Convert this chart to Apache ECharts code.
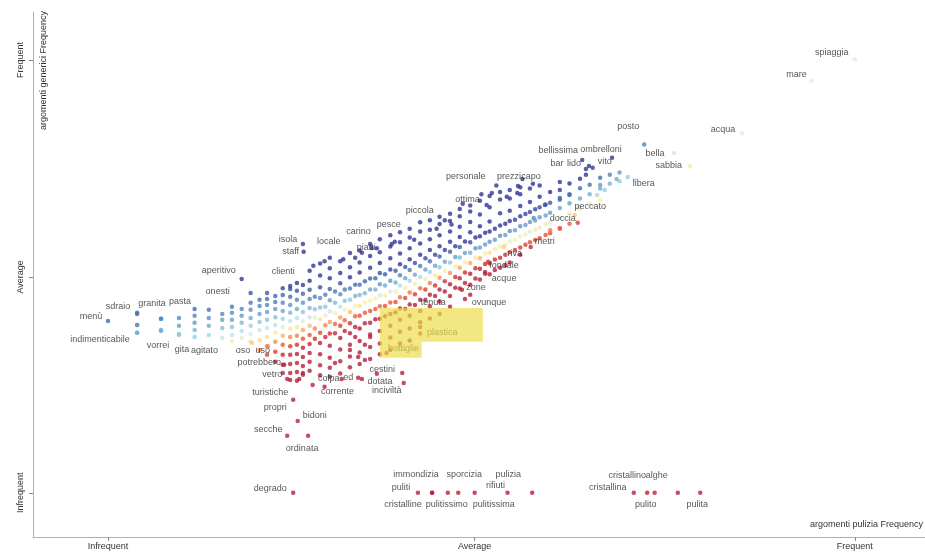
<!DOCTYPE html>
<html><head><meta charset="utf-8">
<script src="https://cdn.jsdelivr.net/npm/echarts@6/dist/echarts.min.js"></script>
<style>html,body{margin:0;padding:0;background:#fff}#c{width:925px;height:552px}</style>
</head><body><div id="c"></div>
<script>
// ---------- tick labels ----------
const tickNames = ['Infrequent', 'Average', 'Frequent'];
const xTickValues = [0, 49.1, 100];
const yTickValues = [0, 49.9, 100];
const xAxisTitle = 'argomenti pulizia Frequency';
const yAxisTitle = 'argomenti generici Frequency';

// ---------- labelled terms (x = pulizia rank, y = generici rank) ----------
const termNames = ['spiaggia','mare','acqua','posto','bella','sabbia','libera','bellissima','ombrelloni','bar','lido','vito',
  'prezzi','capo','personale','ottima','piccola','pesce','carino','piatti','locale','isola','staff','clienti','aperitivo','onesti',
  'granita','pasta','sdraio','menù','indimenticabile','vorrei','gita','agitato','oso','uso','potrebbero','vetro','turistiche',
  'propri','bidoni','secche','ordinata','colpa','ed','corrente','cestini','dotata','inciviltà','plastica','bottiglie','tenuta',
  'ovunque','zone','acque','fondale','riva','metri','doccia','peccato','degrado','puliti','cristalline','immondizia',
  'pulitissimo','sporcizia','pulitissima','rifiuti','pulizia','cristallina','cristallino','pulito','alghe','pulita'];
const termX = [100,94.2,84.9,71.8,75.8,77.9,69.6,63.5,67.5,64.0,64.4,64.9,
  54.9,56.9,51.4,50.7,45.1,38.4,35.3,33.1,29.7,26.1,26.2,24.4,17.9,19.1,
  3.9,7.1,3.9,0,3.9,7.1,9.5,11.6,19.3,21.4,23.6,24.0,25.6,
  24.8,25.4,24.0,26.8,31.3,33.5,27.4,39.4,34.0,39.6,41.8,37.3,41.8,
  47.8,47.4,50.5,50.9,53.0,56.6,62.9,65.5,24.8,41.5,43.4,43.4,
  45.5,46.9,49.1,53.5,56.8,70.4,72.2,73.2,76.3,79.3];
const termY = [100.2,95.2,83.1,80.5,78.5,75.5,73.0,76.9,77.4,74.8,75.5,75.1,
  70.9,71.4,69.3,66.5,63.0,58.0,56.6,54.3,54.3,57.5,55.7,47.8,49.4,46.2,
  41.3,40.2,38.8,39.7,37.0,37.4,36.5,36.0,34.6,33.9,29.6,26.3,26.3,
  21.5,16.6,13.2,13.2,26.3,26.6,24.9,27.7,26.3,25.4,38.3,32.3,44.6,
  44.8,46.9,51.0,53.4,56.8,56.8,62.4,68.8,0,0,0,0,
  0,0,0,0,0,0,0,0,0,0];

// ---------- unlabelled terms, grouped in rank columns ----------
const colX = [3.9,7.1,9.5,11.6,13.5,15.3,16.6,17.9,19.1,20.3,21.3,22.4,23.4,24.4,25.3,26.1,27.0,
  28.4,29.7,31.1,32.4,33.7,35.1,36.4,37.8,39.1,40.4,41.8,43.1,44.4,45.8,47.1,48.5,49.8,51.1,52.5,
  53.8,55.2,56.5,57.8,59.2,60.5,61.8,63.2,64.5,65.9,67.2,68.5];
const colY = [
  [41.6,38.8,37.0],
  [40.2,37.6],
  [40.4,38.6,36.7],
  [42.5,40.9,39.3,37.6,36.0],
  [42.3,40.4,38.6,36.5],
  [41.3,40.0,38.1,35.8],
  [43.0,41.6,40.0,38.3,36.5,35.1],
  [42.5,40.9,39.3,37.4,35.8],
  [43.9,42.3,40.4,38.6,36.7,34.9],
  [44.6,43.2,41.3,39.5,37.6,35.3,33.0],
  [46.2,44.8,43.4,41.8,40.0,38.1,36.0,33.9,31.9],
  [45.5,44.1,42.5,40.6,38.8,37.0,34.9,32.6,30.3],
  [47.3,45.7,43.9,42.0,40.2,38.3,36.3,34.2,31.9,29.6,27.7],
  [47.1,45.3,43.4,41.6,39.7,37.9,36.0,33.9,31.9,29.8,27.7,26.1],
  [48.5,46.7,44.6,42.5,40.4,38.3,36.3,34.2,32.1,30.0,27.9,25.9],
  [48.0,46.0,43.9,41.8,39.7,37.6,35.6,33.5,31.4,29.3,27.3],
  [51.3,49.0,46.9,44.8,42.7,40.6,38.6,36.5,34.4,32.3,30.3,28.2],
  [53.0,50.2,47.5,45.0,42.8,40.1,37.0,34.6,32.0,29.5,27.2],
  [51.9,49.6,47.1,44.5,41.9,39.5,36.8,34.0,31.2,28.9,26.8],
  [53.5,50.8,48.4,45.9,43.0,40.5,38.6,35.8,33.1,30.4,27.6],
  [55.4,52.1,49.8,47.2,44.6,41.8,39.2,36.9,34.2,31.5,29.0],
  [56.0,53.2,50.9,48.1,45.7,43.2,40.9,38.0,35.1,32.4,29.8],
  [57.5,54.7,52.0,49.5,47.0,44.4,42.0,39.3,36.6,33.7,30.9],
  [58.6,55.6,53.1,50.8,48.2,45.6,43.1,40.2,37.4,34.5,32.0],
  [59.5,56.9,54.2,51.6,49.0,46.5,44.0,41.3,38.6,35.9,33.0],
  [60.2,57.9,55.3,52.8,50.3,47.9,45.2,42.6,40.0,37.2,34.5],
  [61.0,59.0,56.5,54.0,51.5,49.0,46.3,43.5,40.9,38.0,35.2],
  [62.5,60.4,57.6,55.0,52.4,49.9,47.3,42.0,39.4,36.8],
  [63.0,60.8,58.6,56.1,53.5,51.0,48.5,45.8,43.1,40.3],
  [63.8,62.1,59.5,57.0,54.6,52.1,49.7,47.0,44.2,41.4],
  [64.5,62.8,60.4,58.0,55.7,53.2,50.8,48.2,45.5,43.0],
  [65.6,63.9,61.5,59.1,56.8,54.4,52.0,49.6,47.2],
  [66.4,65.0,62.6,60.2,57.9,55.5,53.1,50.6,48.1,45.8],
  [67.5,64.3,61.6,59.3,56.7,54.2,51.8,49.3],
  [68.6,66.0,62.7,60.4,58.0,55.5,53.0,50.5],
  [69.5,67.8,64.6,61.8,59.4,56.9,54.3,52.0],
  [70.0,68.0,65.2,62.8,60.5,58.1,55.6,53.2],
  [70.6,69.0,66.3,63.9,61.6,59.2,56.7,55.0],
  [70.3,67.2,64.9,62.6,60.3,57.9],
  [71.0,68.4,66.0,63.7,61.3,58.8],
  [69.5,67.0,64.7,62.4,60.0],
  [71.8,70.0,68.1,65.8,63.6,61.0],
  [71.5,69.0,66.9,64.5,62.2],
  [72.6,70.4,68.0,65.6],
  [71.2,69.0,66.8],
  [72.8,70.3,67.6],
  [73.5,71.4],
  [74.0,72.0]
];
// dense core of the diagonal band
const coreX = [27.7,29.1,30.4,31.7,33.1,34.4,35.8,37.1,38.5,39.8,41.1,42.5,43.8,45.1,46.5,47.8,49.2,50.5,51.8,53.2,54.5,55.9,57.2,58.6];
const coreY = [
  [45.3,42.4,40.5,38.0,35.6],[45.8,43.0,41.0,38.7,36.0],[46.5,43.9,41.5,39.0,36.9],[47.0,44.4,42.3,39.9,37.4],
  [48.1,45.5,43.2,40.8,38.3],[48.9,46.1,44.0,41.6,39.2],[49.6,47.0,44.9,42.5,40.1],[50.5,47.9,45.6,43.2,40.8],
  [51.3,48.6,46.5,44.1,41.7],[52.2,49.6,47.4,45.0,42.5],[53.1,50.4,48.3,45.9,43.4],[54.2,51.6,49.4,47.0,44.6],
  [55.0,52.5,50.3,47.9,45.5],[56.1,53.4,51.3,48.9,46.5],[57.0,54.5,52.3,49.9,47.4],[58.1,55.4,53.3,50.9,48.5],
  [59.0,56.5,54.3,51.9,49.5],[60.1,57.4,55.3,52.9,50.6],[61.0,58.5,56.3,53.9,51.5],[62.2,59.6,57.4,55.0,52.6],
  [63.1,60.7,58.5,56.1],[64.4,61.9,59.7,57.3],[65.5,62.9,60.8,58.4],[66.6,64.1,62.0,59.6]
];
// scattered outliers
const extraX = [30.4,33.5,34.4,32.4,33.1,35.1,34.4,26.1,29.0,36.0,
  60.5,61.8,66.5,68.1,70.5,65.9,58.5,60.5,62.5,59.2,64.0,63.0,57.0,
  54.8,53.4,55.5,50.0,47.5,46.0,44.0,41.0,38.0,36.0,34.0,31.5,29.0,27.5,52.0];
const extraY = [30.0,31.4,30.7,33.0,36.0,36.0,34.2,27.7,24.5,27.5,
  67.7,68.8,70.0,72.5,72.3,71.1,66.5,61.2,64.2,60.7,73.5,66.0,63.5,
  69.3,68.4,72.5,69.0,66.8,62.0,61.0,58.5,57.5,56.5,55.5,54.0,53.5,52.5,71.0];

// ---------- styling helpers (colour = distance from the diagonal band) ----------
const bandAnchors = [[0,31],[4,33],[12,34],[16,35],[20,36.5],[24,38.5],[30,41.5],[39,47],[52.5,57],[66,68],[85,83],[94,95],[100,100]];
function bandCenter(v){
  for(let i=1;i<bandAnchors.length;i++){
    const a=bandAnchors[i-1], b=bandAnchors[i];
    if(v<=b[0]) return a[1]+(b[1]-a[1])*(v-a[0])/(b[0]-a[0]);
  }
  return bandAnchors[bandAnchors.length-1][1];
}
function gain(v){
  if(v<20) return 1;
  if(v<50) return 1+(v-20)*0.06;
  if(v<66) return 2.8-(v-50)*0.07;
  return Math.max(0.3,1.68-(v-66)*0.14);
}
const stops = [[-16,'#b5213a'],[-11,'#d73027'],[-7,'#f46d43'],[-4,'#fdae61'],[-2,'#fee090'],[-0.5,'#f7f2a8'],
  [0.5,'#d8e8ee'],[2,'#abd9e9'],[4,'#74add1'],[8,'#4575b4'],[12,'#313695']];
function rgb(h){return [parseInt(h.slice(1,3),16),parseInt(h.slice(3,5),16),parseInt(h.slice(5,7),16)];}
function scoreColor(v,w){
  let d=(w-bandCenter(v))*gain(v);
  if(d<0 && v>15) d*=1.7;
  if(d<=stops[0][0]) return stops[0][1];
  for(let i=1;i<stops.length;i++){
    if(d<=stops[i][0]){
      const t=(d-stops[i-1][0])/(stops[i][0]-stops[i-1][0]);
      const a=rgb(stops[i-1][1]), b=rgb(stops[i][1]);
      return 'rgb('+a.map((x,k)=>Math.round(x+(b[k]-x)*t)).join(',')+')';
    }
  }
  return stops[stops.length-1][1];
}
const labelOffset = {
  spiaggia:[-23,-7], mare:[-15,-6], acqua:[-19,-4], posto:[-16,-18], bella:[-19,0], sabbia:[-21,-1], libera:[16,7],
  bellissima:[-24,-10], ombrelloni:[-11,-8], bar:[-29,-6], lido:[-15,-3], vito:[12,-6], prezzi:[-9,-9], capo:[-2,-7],
  personale:[-26,-16], ottima:[-19,-6], piccola:[-25,-10], pesce:[-6,-17], carino:[-13,-16], piatti:[11,-10],
  locale:[-1,-16], isola:[-15,-4], staff:[-13,0], clienti:[-7,-14], aperitivo:[-23,-9], onesti:[-33,-1],
  granita:[15,-11], pasta:[19,-17], sdraio:[-19,-18], 'menù':[-17,-5], indimenticabile:[-37,7], vorrei:[-3,15],
  gita:[3,15], agitato:[10,13], oso:[-9,7], uso:[-5,4], potrebbero:[-25,-2], vetro:[-15,-5], turistiche:[-29,13],
  propri:[-18,8], bidoni:[17,-5], secche:[-19,-6], ordinata:[-6,13], colpa:[-13,-1], ed:[-10,0], corrente:[25,6],
  cestini:[-20,-3], dotata:[18,2], 'inciviltà':[-17,8], plastica:[22,5], bottiglie:[17,-5], tenuta:[13,3],
  ovunque:[24,4], zone:[14,-2], acque:[19,6], fondale:[16,4], riva:[11,6], metri:[14,-6], doccia:[-15,-4],
  peccato:[-7,11], degrado:[-23,-4], puliti:[-17,-5], cristalline:[-29,12], immondizia:[-16,-18],
  pulitissimo:[-1,12], sporcizia:[6,-18], pulitissima:[19,12], rifiuti:[-12,-7], pulizia:[-24,-18],
  cristallina:[-26,-5], cristallino:[-20,-17], pulito:[-9,12], alghe:[-21,-17], pulita:[-3,12]
};

// ---------- build series data ----------
const dotSize = 4.5;
const plainPts = [];
colX.forEach((x,i)=>colY[i].forEach(y=>plainPts.push([x,y])));
coreX.forEach((x,i)=>coreY[i].forEach(y=>plainPts.push([x,y])));
extraX.forEach((x,i)=>plainPts.push([x,extraY[i]]));
const plainData = plainPts.map(p=>({value:p,itemStyle:{color:scoreColor(p[0],p[1])}}));
const termData = termNames.map((n,i)=>{
  const o = labelOffset[n]||[8,0];
  return {name:n,value:[termX[i],termY[i]],itemStyle:{color:scoreColor(termX[i],termY[i])},
    label:{position:[dotSize/2+o[0],dotSize/2+o[1]]}};
});
const fmtTick = v => { const i = xTickValues.indexOf(v); return i>=0?tickNames[i]:''; };
const fmtTickY = v => { const i = yTickValues.indexOf(v); return i>=0?tickNames[i]:''; };

const chart = echarts.init(document.getElementById('c'), null, {renderer:'canvas'});
chart.setOption({
  animation:false,
  backgroundColor:'#ffffff',
  textStyle:{fontFamily:'Liberation Sans, Arial, sans-serif'},
  grid:{left:33,right:0,top:12,bottom:15,containLabel:false},
  xAxis:{type:'value',min:-10.04,max:109.4,
    axisLine:{show:true,onZero:false,lineStyle:{color:'#b0b0b0',width:1}},
    axisTick:{show:true,customValues:xTickValues,length:4,lineStyle:{color:'#888'}},
    axisLabel:{show:true,customValues:xTickValues,formatter:fmtTick,fontSize:9,color:'#333',margin:5},
    splitLine:{show:false}},
  yAxis:{type:'value',min:-10.2,max:111.1,
    axisLine:{show:true,onZero:false,lineStyle:{color:'#b0b0b0',width:1}},
    axisTick:{show:true,customValues:yTickValues,length:4,lineStyle:{color:'#888'}},
    axisLabel:{show:true,customValues:yTickValues,formatter:fmtTickY,fontSize:9,color:'#333',rotate:90,margin:8},
    splitLine:{show:false}},
  graphic:[
    {type:'text',x:44,y:11,rotation:Math.PI/2,style:{text:yAxisTitle,fontSize:9,fill:'#333',
      fontFamily:'Liberation Sans, Arial, sans-serif',textAlign:'right',textVerticalAlign:'middle'}},
    {type:'text',x:923,y:525,style:{text:xAxisTitle,fontSize:9,fill:'#333',
      fontFamily:'Liberation Sans, Arial, sans-serif',textAlign:'right',textVerticalAlign:'middle'}}
  ],
  series:[
    {type:'scatter',name:'terms',symbol:'circle',symbolSize:dotSize,data:plainData,z:2,silent:true},
    {type:'scatter',name:'labelled',symbol:'circle',symbolSize:dotSize,data:termData,z:3,silent:true,
      label:{show:true,formatter:p=>p.name,fontSize:9,color:'#2b2b2b',align:'center',verticalAlign:'middle',
        fontFamily:'Liberation Sans, Arial, sans-serif'},
      labelLayout:{hideOverlap:false}},
    {type:'scatter',name:'highlight',data:[],z:10,silent:true,
      markArea:{silent:true,z:10,itemStyle:{color:'rgba(238,220,70,0.68)',borderWidth:0},label:{show:false},
        data:[
          [{coord:[36.4,42.7]},{coord:[50.2,34.9]}],
          [{coord:[36.4,34.9]},{coord:[42.0,31.2]}]
        ]}}
  ]
});
</script></body></html>
